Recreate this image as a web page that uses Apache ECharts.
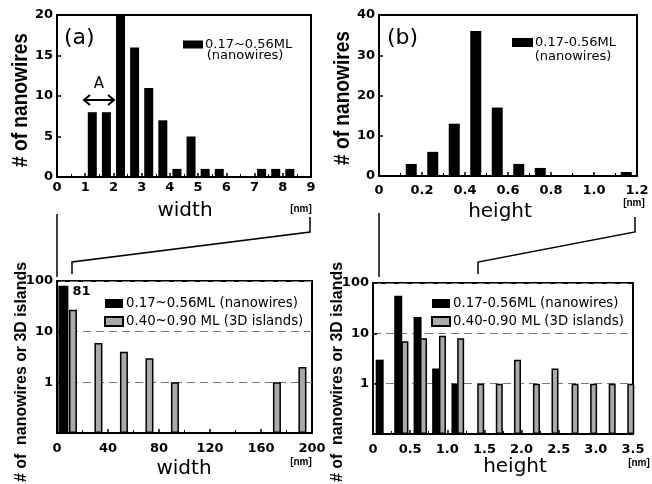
<!DOCTYPE html>
<html>
<head>
<meta charset="utf-8">
<script src="https://cdn.jsdelivr.net/npm/echarts@6/dist/echarts.min.js"></script>
<style>
  html, body { margin: 0; padding: 0; background: #fff; }
  #chart { width: 652px; height: 484px; }
</style>
</head>
<body>
<div id="chart"></div>
<script>
// (a) width histogram, nanowires
const widthX = [1.25, 1.75, 2.25, 2.75, 3.25, 3.75, 4.25, 4.75, 5.25, 5.75, 7.25, 7.75, 8.25];
const widthCount = [8, 8, 20, 16, 11, 7, 1, 5, 1, 1, 1, 1, 1];
// (b) height histogram, nanowires
const heightX = [0.15, 0.25, 0.35, 0.45, 0.55, 0.65, 0.75, 1.15];
const heightCount = [3, 6, 13, 36, 17, 3, 2, 1];
// bottom left: width, log scale
const wideWireX = [5];
const wideWireCount = [81];
const wideIslandX = [12.5, 32.5, 52.5, 72.5, 92.5, 172.5, 192.5];
const wideIslandCount = [27, 6, 4, 3, 1, 1, 2];
// bottom right: height, log scale
const tallWireX = [0.09, 0.34, 0.6, 0.85, 1.11];
const tallWireCount = [3, 56, 21, 2, 1];
const tallIslandX = [0.43, 0.68, 0.935, 1.18, 1.45, 1.7, 1.945, 2.2, 2.45, 2.72, 2.97, 3.22, 3.47];
const tallIslandCount = [7, 8, 9, 8, 1, 1, 3, 1, 2, 1, 1, 1, 1];

const SANS = '"Liberation Sans", Arial, sans-serif';
const WIDE = '"DejaVu Sans", sans-serif';
const pairs = (xs, ys) => xs.map((x, i) => [x, ys[i]]);

function xAx(grid, min, max, interval, margin, fmt, hidden) {
  return {
    type: 'value', gridIndex: grid, min, max, interval, show: !hidden,
    axisLine: { show: true, onZero: false, lineStyle: { color: '#000', width: 2 } },
    axisTick: { show: true, inside: true, length: 4, lineStyle: { color: '#000', width: 1.5 } },
    minorTick: { show: true, splitNumber: 2, length: 3, lineStyle: { color: '#000', width: 1 } },
    axisLabel: { color: '#000', fontSize: 13, fontWeight: 'bold', fontFamily: WIDE, margin, formatter: fmt },
    splitLine: { show: false }
  };
}
function yLin(grid, max, interval) {
  return {
    type: 'value', gridIndex: grid, min: 0, max, interval,
    axisLine: { show: true, lineStyle: { color: '#000', width: 2 } },
    axisTick: { show: true, inside: true, length: 4, lineStyle: { color: '#000', width: 1.5 } },
    axisLabel: { color: '#000', fontSize: 13, fontWeight: 'bold', fontFamily: WIDE, margin: 4 },
    splitLine: { show: false }
  };
}
function yLog(grid) {
  return {
    type: 'log', gridIndex: grid, min: 0.1, max: 100, logBase: 10, startValue: 0.1,
    axisLine: { show: true, lineStyle: { color: '#000', width: 2 } },
    axisTick: { show: true, inside: true, length: 4, lineStyle: { color: '#000', width: 1.5 } },
    axisLabel: { color: '#000', fontSize: 13, fontWeight: 'bold', fontFamily: WIDE, margin: 4,
      formatter: v => (v < 0.5 ? '' : String(Math.round(v))) },
    splitLine: { show: true, lineStyle: { color: '#777', type: [8, 5], width: 1 } }
  };
}

const black = { color: '#000', borderColor: '#000', borderWidth: 0 };
const grey = { color: '#aaaaaa', borderColor: '#000', borderWidth: 1.5 };
const gridBox = { show: true, borderColor: '#000', borderWidth: 2, backgroundColor: 'transparent' };

const n1 = '0.17~0.56ML\n(nanowires)';
const n2 = '0.17-0.56ML\n(nanowires)';
const n3 = '0.17~0.56ML (nanowires)';
const n4 = '0.40~0.90 ML (3D islands)';
const n5 = '0.17-0.56ML (nanowires)';
const n6 = '0.40-0.90 ML (3D islands)';

function yTitle(x, y, text, size, squeeze) {
  return { type: 'text', x, y, rotation: Math.PI / 2, scaleX: squeeze,
    style: { text, font: 'bold ' + size + 'px ' + SANS, fill: '#000', align: 'center', verticalAlign: 'middle' } };
}
function label(x, y, text, font) {
  return { type: 'text', x, y, style: { text, font, fill: '#000', align: 'center', verticalAlign: 'middle' } };
}

const chart = echarts.init(document.getElementById('chart'), null, { renderer: 'canvas' });
chart.setOption({
  backgroundColor: '#fff',
  animation: false,
  grid: [
    Object.assign({ left: 57, top: 15, width: 254, height: 162 }, gridBox),
    Object.assign({ left: 379, top: 15, width: 258, height: 161 }, gridBox),
    Object.assign({ left: 57, top: 281, width: 255, height: 152 }, gridBox),
    Object.assign({ left: 373, top: 283, width: 260, height: 151 }, gridBox)
  ],
  xAxis: [
    xAx(0, 0, 9, 1, 4),
    xAx(1, 0, 1.2, 0.2, 8, v => (v === 0 ? '0' : v.toFixed(1))),
    xAx(2, 0, 200, 40, 9),
    xAx(2, 0, 200, 40, 9, null, true),
    xAx(3, 0, 3.5, 0.5, 9, v => (v === 0 ? '0' : v.toFixed(1))),
    xAx(3, 0, 3.5, 0.5, 9, null, true)
  ],
  yAxis: [yLin(0, 20, 5), yLin(1, 40, 10), yLog(2), yLog(3)],
  legend: [
    { left: 178, top: 33, icon: 'rect', itemWidth: 20, itemHeight: 8, itemGap: 4,
      textStyle: { color: '#000', fontSize: 13, fontFamily: WIDE, padding: [0, 0, 0, -3] },
      data: [n1], formatter: n => n.split('\n')[0] },
    { left: 507, top: 31, icon: 'rect', itemWidth: 21, itemHeight: 9, itemGap: 4,
      textStyle: { color: '#000', fontSize: 13, fontFamily: WIDE, padding: [0, 0, 0, -3] },
      data: [n2], formatter: n => n.split('\n')[0] },
    { left: 99, top: 292, orient: 'vertical', icon: 'rect', itemWidth: 18, itemHeight: 9, itemGap: 5,
      textStyle: { color: '#000', fontSize: 13.3, fontFamily: WIDE, padding: [0, 0, 0, -2] }, data: [n3, n4] },
    { left: 426, top: 292, orient: 'vertical', icon: 'rect', itemWidth: 18, itemHeight: 9, itemGap: 5,
      textStyle: { color: '#000', fontSize: 13.3, fontFamily: WIDE, padding: [0, 0, 0, -2] }, data: [n5, n6] }
  ],
  series: [
    { name: n1, type: 'bar', xAxisIndex: 0, yAxisIndex: 0, barWidth: 9, itemStyle: black,
      data: pairs(widthX, widthCount) },
    { name: n2, type: 'bar', xAxisIndex: 1, yAxisIndex: 1, barWidth: 11, itemStyle: black,
      data: pairs(heightX, heightCount) },
    { name: n3, type: 'bar', xAxisIndex: 2, yAxisIndex: 2, barWidth: 10, itemStyle: black,
      label: { show: true, position: [14, -1], color: '#000', fontSize: 13, fontWeight: 'bold',
        fontFamily: WIDE, formatter: p => String(p.value[1]) },
      data: pairs(wideWireX, wideWireCount) },
    { name: n4, type: 'bar', xAxisIndex: 3, yAxisIndex: 2, barWidth: 8, itemStyle: grey,
      data: pairs(wideIslandX, wideIslandCount) },
    { name: n5, type: 'bar', xAxisIndex: 4, yAxisIndex: 3, barWidth: 8, itemStyle: black,
      data: pairs(tallWireX, tallWireCount) },
    { name: n6, type: 'bar', xAxisIndex: 5, yAxisIndex: 3, barWidth: 7, itemStyle: grey,
      data: pairs(tallIslandX, tallIslandCount) }
  ],
  graphic: [
    // panel letters
    { type: 'text', left: 64, top: 27, style: { text: '(a)', font: '22px ' + WIDE, fill: '#000' } },
    { type: 'text', left: 387, top: 27, style: { text: '(b)', font: '22px ' + WIDE, fill: '#000' } },
    // legend second lines
    label(245, 56, '(nanowires)', '13px ' + WIDE),
    label(573, 57, '(nanowires)', '13px ' + WIDE),
    // y titles
    yTitle(21, 100, '# of nanowires', 22, 0.87),
    yTitle(343, 98, '# of nanowires', 22, 0.87),
    yTitle(21, 372, '# of  nanowires or 3D islands', 17, 0.935),
    yTitle(337, 372, '# of  nanowires or 3D islands', 17, 0.935),
    // x titles
    label(185, 211, 'width', '20px ' + WIDE),
    label(500, 212, 'height', '20px ' + WIDE),
    label(184, 469, 'width', '20px ' + WIDE),
    label(515, 467, 'height', '20px ' + WIDE),
    // units
    label(301, 209, '[nm]', 'bold 10px ' + SANS),
    label(634, 203, '[nm]', 'bold 10px ' + SANS),
    label(301, 462, '[nm]', 'bold 10px ' + SANS),
    label(639, 463, '[nm]', 'bold 10px ' + SANS),
    // "A" with double arrow
    label(99, 84, 'A', '15px ' + WIDE),
    { type: 'line', shape: { x1: 85, y1: 100, x2: 113, y2: 100 }, style: { stroke: '#000', lineWidth: 2 } },
    { type: 'polyline', shape: { points: [[90, 95], [84, 100], [90, 105]] }, style: { stroke: '#000', lineWidth: 2, fill: null } },
    { type: 'polyline', shape: { points: [[108, 95], [114, 100], [108, 105]] }, style: { stroke: '#000', lineWidth: 2, fill: null } },
    // zoom connector lines
    { type: 'polyline', shape: { points: [[57, 214], [57, 277]] }, style: { stroke: '#000', lineWidth: 1.5, fill: null } },
    { type: 'polyline', shape: { points: [[310, 217], [310, 232], [72, 262], [72, 274]] }, style: { stroke: '#000', lineWidth: 1.5, fill: null } },
    { type: 'polyline', shape: { points: [[379, 213], [379, 277]] }, style: { stroke: '#000', lineWidth: 1.5, fill: null } },
    { type: 'polyline', shape: { points: [[635, 217], [635, 232], [478, 262], [478, 274]] }, style: { stroke: '#000', lineWidth: 1.5, fill: null } }
  ]
});
</script>
</body>
</html>
